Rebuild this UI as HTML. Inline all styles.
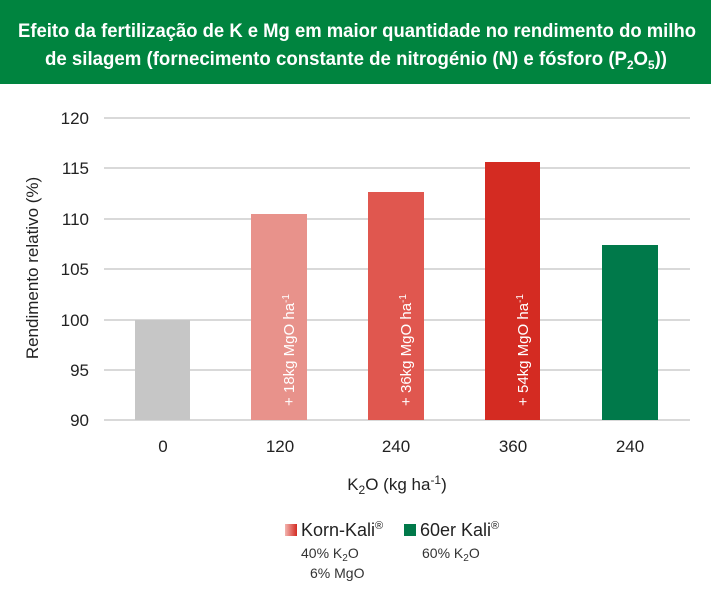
<!DOCTYPE html>
<html><head><meta charset="utf-8"><style>
body{margin:0;width:711px;height:600px;background:#fff;font-family:"Liberation Sans",Arial,sans-serif;overflow:hidden}
</style></head><body>
<svg width="711" height="600" xmlns="http://www.w3.org/2000/svg" font-family="Liberation Sans, Arial, sans-serif">
<rect x="0" y="0" width="711" height="84" fill="#00843F"/>
<text x="18" y="37" textLength="678" lengthAdjust="spacingAndGlyphs" fill="#fff" font-size="19" font-weight="bold">Efeito da fertilização de K e Mg em maior quantidade no rendimento do milho</text>
<text x="45" y="65" textLength="622" lengthAdjust="spacingAndGlyphs" fill="#fff" font-size="19" font-weight="bold">de silagem (fornecimento constante de nitrogénio (N) e fósforo (P<tspan font-size="12" dy="4">2</tspan><tspan dy="-4">O</tspan><tspan font-size="12" dy="4">5</tspan><tspan dy="-4">))</tspan></text>
<g stroke="#d9d9d9" stroke-width="2">
<line x1="104" x2="690" y1="118" y2="118"/>
<line x1="104" x2="690" y1="168" y2="168"/>
<line x1="104" x2="690" y1="219" y2="219"/>
<line x1="104" x2="690" y1="269" y2="269"/>
<line x1="104" x2="690" y1="320" y2="320"/>
<line x1="104" x2="690" y1="370" y2="370"/>
<line x1="104" x2="690" y1="420" y2="420"/>
</g>
<g font-size="17" fill="#222" text-anchor="end">
<text x="89" y="124">120</text><text x="89" y="174">115</text><text x="89" y="225">110</text>
<text x="89" y="275">105</text><text x="89" y="326">100</text><text x="89" y="376">95</text><text x="89" y="426">90</text>
</g>
<text transform="translate(38,268) rotate(-90)" text-anchor="middle" font-size="17" fill="#222">Rendimento relativo (%)</text>
<rect x="135" y="320" width="55" height="100" fill="#c6c6c6"/>
<rect x="251" y="214" width="56" height="206" fill="#E8928B"/>
<rect x="368" y="192" width="56" height="228" fill="#E0574F"/>
<rect x="485" y="162" width="55" height="258" fill="#D42B22"/>
<rect x="602" y="245" width="56" height="175" fill="#00794A"/>
<g font-size="15" fill="#fff" text-anchor="middle">
<text transform="translate(294,350) rotate(-90)">+ 18kg MgO ha<tspan font-size="10" dy="-5">-1</tspan></text>
<text transform="translate(411,350) rotate(-90)">+ 36kg MgO ha<tspan font-size="10" dy="-5">-1</tspan></text>
<text transform="translate(528,350) rotate(-90)">+ 54kg MgO ha<tspan font-size="10" dy="-5">-1</tspan></text>
</g>
<g font-size="17" fill="#222" text-anchor="middle">
<text x="163" y="452">0</text><text x="280" y="452">120</text><text x="396" y="452">240</text>
<text x="513" y="452">360</text><text x="630" y="452">240</text>
<text x="397" y="490">K<tspan font-size="12" dy="4">2</tspan><tspan dy="-4">O (kg ha</tspan><tspan font-size="12" dy="-6">-1</tspan><tspan dy="6">)</tspan></text>
</g>
<defs><linearGradient id="g" x1="0" x2="1"><stop offset="0" stop-color="#f2b5b0"/><stop offset="1" stop-color="#d42b22"/></linearGradient></defs>
<rect x="285" y="524" width="12" height="12" fill="url(#g)"/>
<text x="301" y="536" font-size="18" fill="#222">Korn-Kali<tspan font-size="11" dy="-7">®</tspan></text>
<rect x="404" y="524" width="12" height="12" fill="#00794A"/>
<text x="420" y="536" font-size="18" fill="#222">60er Kali<tspan font-size="11" dy="-7">®</tspan></text>
<g font-size="14" fill="#333">
<text x="301" y="558">40% K<tspan font-size="10" dy="3">2</tspan><tspan dy="-3">O</tspan></text>
<text x="310" y="578">6% MgO</text>
<text x="422" y="558">60% K<tspan font-size="10" dy="3">2</tspan><tspan dy="-3">O</tspan></text>
</g>
</svg>
</body></html>
